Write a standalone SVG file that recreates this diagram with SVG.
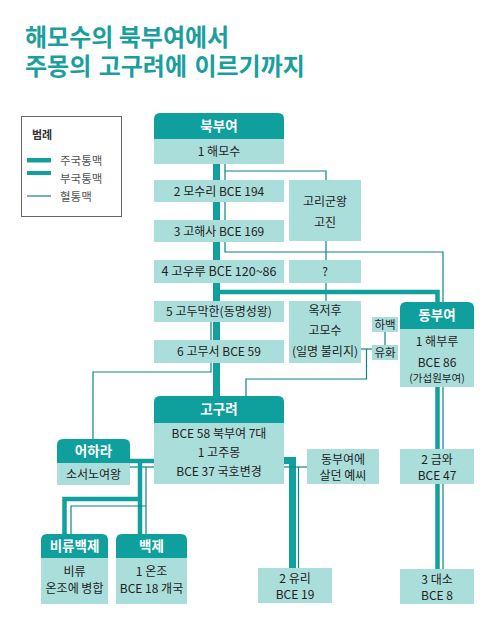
<svg xmlns="http://www.w3.org/2000/svg" width="481" height="640" viewBox="0 0 481 640">
<style>
text{font-family:"Noto Sans CJK KR","Noto Sans",sans-serif;}
.title{font-size:24px;font-weight:700;fill:#1a9e9e;}
.hd{fill:#0fa09e;}
.bd{fill:#aadedb;}
.ht{font-size:13.5px;font-weight:700;fill:#fff;text-anchor:middle;}
.t{font-size:12px;fill:#222;text-anchor:middle;}
.ts{font-size:10.5px;fill:#222;text-anchor:middle;}
.lg{font-size:11.5px;fill:#555;}
.thick{stroke:#12a09f;stroke-width:7;fill:none;}
.mid{stroke:#12a09f;stroke-width:4.5;fill:none;}
.thin{stroke:#0e8484;stroke-width:1.2;fill:none;}
</style>
<rect width="481" height="640" fill="#fff"/>
<text class="title" x="25" y="46">해모수의 북부여에서</text>
<text class="title" x="25" y="75" style="word-spacing:2px">주몽의 고구려에 이르기까지</text>

<g id="legend">
<rect x="21.5" y="116.5" width="100" height="100" fill="#fff" stroke="#666" stroke-width="1"/>
<text x="32" y="139" style="font-size:11px;font-weight:700;fill:#333">범례</text>
<rect x="27" y="158" width="24" height="4.5" fill="#12a09f"/>
<text class="lg" x="60" y="165">주국통맥</text>
<rect x="27" y="171" width="24" height="4" fill="#12a09f"/>
<text class="lg" x="60" y="183">부국통맥</text>
<line x1="27" y1="196" x2="51" y2="196" class="thin"/>
<text class="lg" x="60" y="201">혈통맥</text>
</g>

<g id="connectors">
<path class="thick" d="M216.5,164 V397"/>
<path class="thin" d="M225,164 V252 H443 V302"/>
<path class="thin" d="M225,171 H326 V180"/>
<path class="thin" d="M326,241 V301"/>
<path class="mid" d="M220,292 H437.5 V302"/>
<path class="thin" d="M211,322 V340"/>
<path class="thin" d="M211,363 V372 H93 V439"/>
<path class="thin" d="M361,349 H372"/>
<path class="thin" d="M385,332 V345"/>
<path class="thin" d="M366.5,349 V379 H246 V396"/>
<path class="mid" d="M437.5,387 V569"/>
<path class="thin" d="M443,387 V449 M443,484 V569"/>
<path class="mid" d="M130,461 H154"/>
<path class="thin" d="M130,467 H154"/>
<path class="mid" d="M140,461 V534"/>
<path class="mid" d="M140,499 H64.5 V534"/>
<path class="thin" d="M146,467 V534"/>
<path class="thin" d="M146,506 H71 V534"/>
<path class="thick" d="M284,460.5 H292.5 V568"/>
<path class="thin" d="M284,467 H307"/>
<path class="thin" d="M298.5,467 V568"/>
</g>

<g id="bukbuyeo">
<path class="hd" d="M154,139 V119 Q154,113 160,113 H278 Q284,113 284,119 V139 Z"/>
<text class="ht" x="219" y="131">북부여</text>
<rect class="bd" x="154" y="139" width="130" height="25"/>
<text class="t" x="219" y="156">1 해모수</text>
</g>
<g id="mosuri"><rect class="bd" x="154" y="180" width="130" height="22"/><text class="t" x="219" y="195.5">2 모수리 BCE 194</text></g>
<g id="gohaesa"><rect class="bd" x="154" y="220" width="130" height="22"/><text class="t" x="219" y="235.5">3 고해사 BCE 169</text></g>
<g id="gojin"><rect class="bd" x="289" y="180" width="72" height="61"/><text class="t" x="325" y="206">고리군왕</text><text class="t" x="325" y="227">고진</text></g>
<g id="gouru"><rect class="bd" x="154" y="260" width="130" height="23"/><text class="t" x="219" y="276" style="font-size:12.5px">4 고우루 BCE 120~86</text></g>
<g id="unknown"><rect class="bd" x="289" y="260" width="72" height="23"/><text class="t" x="325" y="276">?</text></g>
<g id="godumakhan"><rect class="bd" x="154" y="301" width="130" height="21"/><text class="t" x="219" y="316">5 고두막한(동명성왕)</text></g>
<g id="gomuseo"><rect class="bd" x="154" y="340" width="130" height="23"/><text class="t" x="219" y="356">6 고무서 BCE 59</text></g>
<g id="okjeo"><rect class="bd" x="289" y="301" width="72" height="62"/><text class="t" x="325" y="315">옥저후</text><text class="t" x="325" y="335">고모수</text><text class="t" x="325" y="356">(일명 불리지)</text></g>
<g id="habaek"><rect class="bd" x="372" y="317" width="26" height="15"/><text class="t" x="385" y="329" style="font-size:11.5px">하백</text></g>
<g id="yuhwa"><rect class="bd" x="372" y="345" width="26" height="15"/><text class="t" x="385" y="357" style="font-size:11.5px">유화</text></g>
<g id="dongbuyeo">
<path class="hd" d="M400,329 V308 Q400,302 406,302 H468 Q474,302 474,308 V329 Z"/>
<text class="ht" x="437" y="320">동부여</text>
<rect class="bd" x="400" y="329" width="74" height="58"/>
<text class="t" x="437" y="346">1 해부루</text>
<text class="t" x="437" y="367">BCE 86</text>
<text class="ts" x="437" y="382">(가섭원부여)</text>
</g>
<g id="goguryeo">
<path class="hd" d="M154,423 V402 Q154,396 160,396 H278 Q284,396 284,402 V423 Z"/>
<text class="ht" x="219" y="414">고구려</text>
<rect class="bd" x="154" y="423" width="130" height="61"/>
<text class="t" x="219" y="438">BCE 58 북부여 7대</text>
<text class="t" x="219" y="457">1 고주몽</text>
<text class="t" x="219" y="476">BCE 37 국호변경</text>
</g>
<g id="eohara">
<path class="hd" d="M57,463 V445 Q57,439 63,439 H124 Q130,439 130,445 V463 Z"/>
<text class="ht" x="93.5" y="456">어하라</text>
<rect class="bd" x="57" y="463" width="73" height="22"/>
<text class="t" x="93.5" y="478.5">소서노여왕</text>
</g>
<g id="yessi"><rect class="bd" x="307" y="449" width="72" height="35"/><text class="t" x="343" y="464">동부여에</text><text class="t" x="343" y="480">살던 예씨</text></g>
<g id="geumwa"><rect class="bd" x="400" y="449" width="74" height="35"/><text class="t" x="437" y="464">2 금와</text><text class="t" x="437" y="480">BCE 47</text></g>
<g id="biryu">
<path class="hd" d="M41,558 V540 Q41,534 47,534 H102 Q108,534 108,540 V558 Z"/>
<text class="ht" x="74.5" y="551">비류백제</text>
<rect class="bd" x="41" y="558" width="67" height="46"/>
<text class="t" x="74.5" y="576">비류</text>
<text class="t" x="74.5" y="593">온조에 병합</text>
</g>
<g id="baekje">
<path class="hd" d="M116,558 V540 Q116,534 122,534 H181 Q187,534 187,540 V558 Z"/>
<text class="ht" x="151.5" y="551">백제</text>
<rect class="bd" x="116" y="558" width="71" height="46"/>
<text class="t" x="151.5" y="576">1 온조</text>
<text class="t" x="151.5" y="593">BCE 18 개국</text>
</g>
<g id="yuri"><rect class="bd" x="258" y="568" width="74" height="35"/><text class="t" x="295" y="583">2 유리</text><text class="t" x="295" y="599">BCE 19</text></g>
<g id="daeso"><rect class="bd" x="400" y="569" width="74" height="35"/><text class="t" x="437" y="584">3 대소</text><text class="t" x="437" y="600">BCE 8</text></g>
</svg>
